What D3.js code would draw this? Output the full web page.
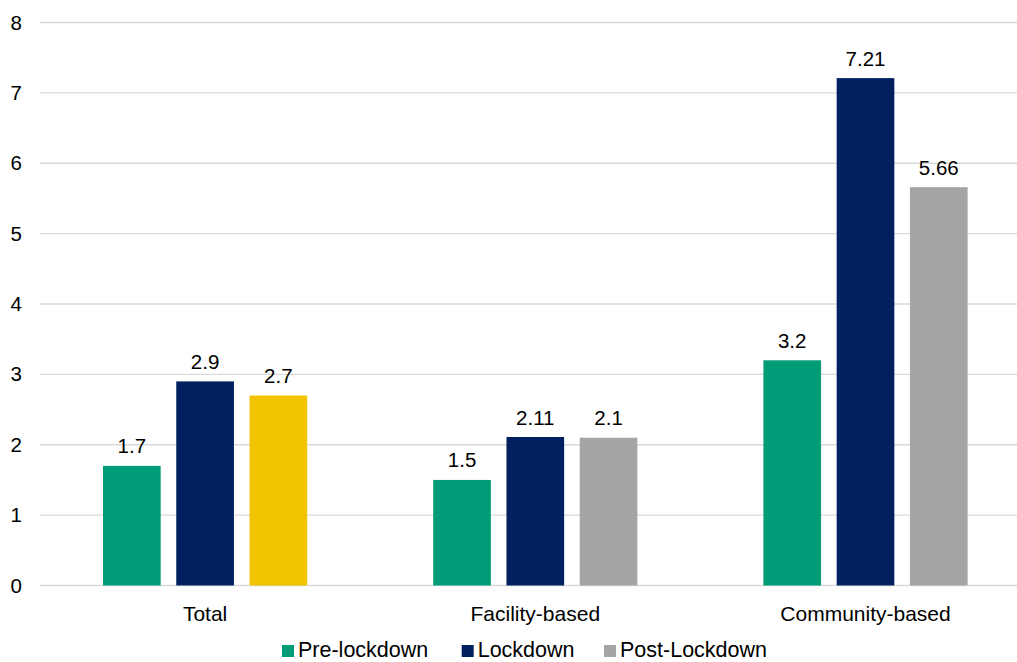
<!DOCTYPE html>
<html><head><meta charset="utf-8">
<script src="https://cdn.jsdelivr.net/npm/d3@7"></script>
<style>body{margin:0;background:#fff;} svg{display:block;font-family:"Liberation Sans",Arial,sans-serif;}</style>
</head><body>
<svg id="c" width="1017" height="662"></svg>
<script>
const categories = ["Total", "Facility-based", "Community-based"];
const seriesNames = ["Pre-lockdown", "Lockdown", "Post-Lockdown"];
const preLockdown = [1.7, 1.5, 3.2];
const lockdown = [2.9, 2.11, 7.21];
const postLockdown = [2.7, 2.1, 5.66];
const yTicks = [0, 1, 2, 3, 4, 5, 6, 7, 8];
const seriesColors = ["#009B77", "#00205F", "#A5A5A5"];
const highlightColor = "#F0C400";

const svg = d3.select("#c");
const x0 = d3.scaleBand().domain(categories).range([40, 1030.6]).paddingInner(0).paddingOuter(0);
const x1 = d3.scaleBand().domain(seriesNames).range([63, 330.2 - 63]).paddingInner(0.213).paddingOuter(0);
const y = d3.scaleLinear().domain([0, 8]).range([585.5, 22.5]);

// gridlines
svg.append("g").selectAll("line").data(yTicks).join("line")
  .attr("x1", 40).attr("x2", 1017)
  .attr("y1", d => y(d)).attr("y2", d => y(d))
  .attr("stroke", "#D9D9D9").attr("stroke-width", 1.3);

// y axis labels
const yAxis = d3.axisLeft(y).tickValues(yTicks).tickSize(0).tickPadding(0);
const ga = svg.append("g").attr("transform", "translate(22,0)").call(yAxis);
ga.select(".domain").remove();
ga.selectAll("text").attr("font-size", 20.5).attr("fill", "#000").attr("font-family", "Liberation Sans, Arial, sans-serif");

const values = [preLockdown, lockdown, postLockdown];
const data = [];
categories.forEach((c, i) => {
  seriesNames.forEach((s, j) => {
    data.push({cat: c, ser: s, v: values[j][i], color: (i === 0 && j === 2) ? highlightColor : seriesColors[j]});
  });
});

const g = svg.append("g");
g.selectAll("rect").data(data).join("rect")
  .attr("x", d => x0(d.cat) + x1(d.ser))
  .attr("width", x1.bandwidth())
  .attr("y", d => y(d.v))
  .attr("height", d => y(0) - y(d.v))
  .attr("fill", d => d.color);

g.selectAll("text.v").data(data).join("text").attr("class", "v")
  .attr("x", d => x0(d.cat) + x1(d.ser) + x1.bandwidth() / 2)
  .attr("y", d => y(d.v) - 12.5)
  .attr("text-anchor", "middle")
  .attr("font-size", 20.5).attr("fill", "#000")
  .text(d => d.v);

// x axis labels
const xAxis = d3.axisBottom(x0).tickSize(0).tickPadding(0);
const gx = svg.append("g").attr("transform", "translate(0,604)").call(xAxis);
gx.select(".domain").remove();
gx.selectAll("text").attr("font-size", 21).attr("fill", "#000").attr("font-family", "Liberation Sans, Arial, sans-serif").attr("dy", "0.8em");

// legend
const legendX = [282, 461.7, 604];
const lg = svg.append("g");
seriesNames.forEach((s, j) => {
  lg.append("rect").attr("x", legendX[j]).attr("y", 645).attr("width", 12).attr("height", 12).attr("fill", seriesColors[j]);
  lg.append("text").attr("x", legendX[j] + 16).attr("y", 657).attr("font-size", 21.5).attr("fill", "#000").text(s);
});
</script>
</body></html>
